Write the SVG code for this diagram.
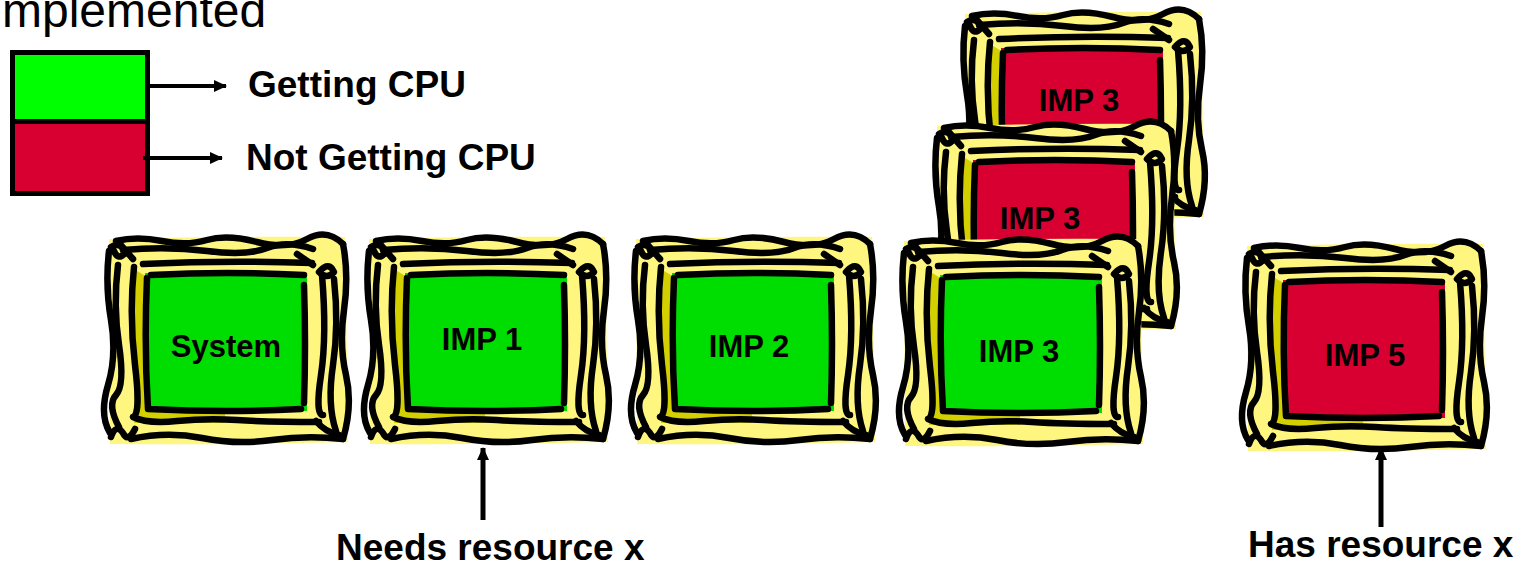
<svg xmlns="http://www.w3.org/2000/svg" xmlns:xlink="http://www.w3.org/1999/xlink" width="1517" height="564" viewBox="0 0 1517 564">
  <style>
    .ink { fill: none; stroke: #000; stroke-width: 6.5; stroke-linecap: round; stroke-linejoin: round; }
    .lbl { font-family: "Liberation Sans", Arial, sans-serif; font-weight: bold; fill: #000; }
    .node-lbl { font-size: 31px; text-anchor: middle; }
    .big-lbl { font-size: 37px; }
    .go { color: #00DD00; }
    .stop { color: #D70030; }
    .conn { stroke: #000; fill: none; }
  </style>
  <defs>
    <marker id="head" markerUnits="userSpaceOnUse" markerWidth="14" markerHeight="12" refX="12" refY="6" orient="auto">
      <path d="M0,0 L13,6 L0,12 Z" fill="#000"/>
    </marker>
    <!-- sketchy picture frame; the picture area takes its colour from the using element -->
    <g id="frame">
      <path d="M2,4 Q120,1 238,2 L241,207 Q120,210 3,209 Z" fill="#FFF680"/>
      <path d="M27,34 L40,42 L40,172 L118,172 L118,188 L27,188 Z" fill="#D4D000"/>
      <rect x="38" y="38" width="162" height="138" fill="currentColor"/>
      <!-- outer ring -->
      <path class="ink" d="M9,6 Q30,1 55,6 T100,5 T150,7 T200,4 T236,9"/>
      <path class="ink" d="M236,9 Q242,40 237,75 T239,140 T236,204"/>
      <path class="ink" d="M236,204 Q200,200 165,205 T95,203 T24,204"/>
      <path class="ink" d="M2,16 Q-2,50 4,85 T1,150 T3,198"/>
      <!-- second ring -->
      <path class="ink" d="M16,15 Q60,11 100,16 T160,13 T206,14"/>
      <path class="ink" d="M11,30 Q6,70 12,110 T9,160 T12,192"/>
      <path class="ink" d="M227,44 Q232,90 226,130 T229,196"/>
      <!-- inner frame ring -->
      <path class="ink" d="M36,29 Q120,25 205,28"/>
      <path class="ink" d="M27,32 Q22,80 28,130 T26,182 Q40,189 70,186 T130,185 T212,187"/>
      <path class="ink" d="M215,40 Q220,100 214,140 T216,180"/>
      <!-- picture border -->
      <path class="ink" d="M44,40 Q120,36 197,40"/>
      <path class="ink" d="M40,43 Q37,110 41,174 Q120,178 194,174"/>
      <path class="ink" d="M197,50 Q199,110 197,168"/>
      <!-- corner flourishes -->
      <path class="ink" d="M4,12 Q14,6 18,18 Q11,26 7,16 M12,8 L26,24"/>
      <path class="ink" d="M190,19 L206,30 M213,36 Q222,26 227,37 Q220,45 212,37"/>
      <path class="ink" d="M4,202 Q9,188 16,198 Q21,208 28,194"/>
      <path class="ink" d="M209,186 Q218,197 232,200"/>
    </g>
  </defs>

  <!-- heading fragment -->
  <text x="2" y="27" font-family="Liberation Sans, Arial, sans-serif" font-size="48" fill="#000">mplemented</text>

  <!-- legend -->
  <g id="legend">
    <rect x="12.5" y="52.5" width="135" height="69" fill="#00FF00" stroke="#000" stroke-width="5"/>
    <rect x="12.5" y="121.5" width="135" height="72" fill="#D70030" stroke="#000" stroke-width="5"/>
    <text class="lbl big-lbl" x="248" y="97">Getting CPU</text>
    <text class="lbl big-lbl" x="246" y="170">Not Getting CPU</text>
  </g>

  <!-- frames -->
  <g id="node-system" transform="translate(107,235)">
    <use xlink:href="#frame" href="#frame" class="go"/>
    <text class="lbl node-lbl" x="119" y="122">System</text>
  </g>
  <g id="node-imp1" transform="translate(367,235)">
    <use xlink:href="#frame" href="#frame" class="go"/>
    <text class="lbl node-lbl" x="115" y="115">IMP 1</text>
  </g>
  <g id="node-imp2" transform="translate(634,235)">
    <use xlink:href="#frame" href="#frame" class="go"/>
    <text class="lbl node-lbl" x="115" y="122">IMP 2</text>
  </g>
  <g id="node-imp3-back" transform="translate(963,10)">
    <use xlink:href="#frame" href="#frame" class="stop"/>
    <text class="lbl node-lbl" x="116" y="101">IMP 3</text>
  </g>
  <g id="node-imp3-mid" transform="translate(935,122)">
    <use xlink:href="#frame" href="#frame" class="stop"/>
    <text class="lbl node-lbl" x="105" y="107">IMP 3</text>
  </g>
  <g id="node-imp3" transform="translate(902,237)">
    <use xlink:href="#frame" href="#frame" class="go"/>
    <text class="lbl node-lbl" x="117" y="125">IMP 3</text>
  </g>
  <g id="node-imp5" transform="translate(1245,242)">
    <use xlink:href="#frame" href="#frame" class="stop"/>
    <text class="lbl node-lbl" x="120" y="124">IMP 5</text>
  </g>

  <!-- connectors -->
  <g id="connectors">
    <line class="conn" x1="148" y1="86" x2="226" y2="86" stroke-width="4" marker-end="url(#head)"/>
    <line class="conn" x1="143" y1="158" x2="222" y2="158" stroke-width="4" marker-end="url(#head)"/>
    <line class="conn" x1="483" y1="520" x2="483" y2="448" stroke-width="5" marker-end="url(#head)"/>
    <line class="conn" x1="1381" y1="527" x2="1381" y2="448" stroke-width="5" marker-end="url(#head)"/>
  </g>

  <!-- annotations -->
  <text class="lbl big-lbl" x="336" y="560">Needs resource x</text>
  <text class="lbl big-lbl" x="1248" y="557">Has resource x</text>
</svg>
